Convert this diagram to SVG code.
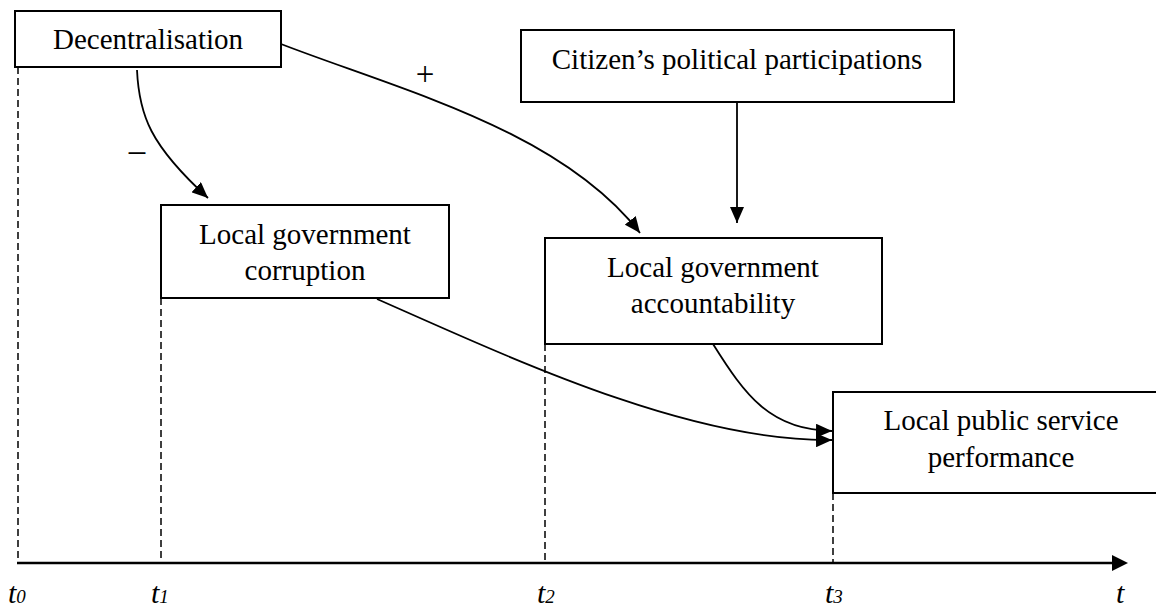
<svg xmlns="http://www.w3.org/2000/svg" width="1156" height="608" viewBox="0 0 1156 608">
<style>
.box{fill:#fff;stroke:#000;stroke-width:2}
.lbl{font-family:"Liberation Serif","Times New Roman",serif;font-size:29px;fill:#000;text-anchor:middle}
.sign{font-family:"Liberation Serif","Times New Roman",serif;font-size:33px;fill:#000;text-anchor:middle}
.conn{fill:none;stroke:#000;stroke-width:1.8}
.dash{fill:none;stroke:#000;stroke-width:1.5;stroke-dasharray:7 4}
.tl{font-family:"Liberation Serif","Times New Roman",serif;font-style:italic;font-size:30px;fill:#000}
.sub{font-size:19px}
</style>
<defs>
<marker id="ah" markerUnits="userSpaceOnUse" markerWidth="18" markerHeight="14" refX="16" refY="7" orient="auto">
<path d="M0,0 L16,7 L0,14 Z" fill="#000"/>
</marker>
</defs>
<rect width="1156" height="608" fill="#fff"/>
<g id="timeline">
<line class="dash" x1="18" y1="67" x2="18" y2="563"/>
<line class="dash" x1="161" y1="298" x2="161" y2="563"/>
<line class="dash" x1="545" y1="344" x2="545" y2="563"/>
<line class="dash" x1="833" y1="493" x2="833" y2="563"/>
<line x1="17" y1="563" x2="1114" y2="563" stroke="#000" stroke-width="2.6"/>
<polygon points="1112,555 1128,563 1112,571" fill="#000"/>
<text class="tl" x="8" y="603">t<tspan class="sub">0</tspan></text>
<text class="tl" x="151" y="603">t<tspan class="sub">1</tspan></text>
<text class="tl" x="537" y="603">t<tspan class="sub">2</tspan></text>
<text class="tl" x="825" y="603">t<tspan class="sub">3</tspan></text>
<text class="tl" x="1116" y="603">t</text>
</g>
<g id="decentralisation">
<rect class="box" x="15" y="11" width="266" height="56"/>
<text class="lbl" x="148" y="49">Decentralisation</text>
</g>
<g id="citizens">
<rect class="box" x="521" y="30" width="433" height="72"/>
<text class="lbl" x="737" y="69">Citizen’s political participations</text>
</g>
<g id="corruption">
<rect class="box" x="161" y="205" width="288" height="93"/>
<text class="lbl" x="305" y="244">Local government</text>
<text class="lbl" x="305" y="280">corruption</text>
</g>
<g id="accountability">
<rect class="box" x="545" y="238" width="337" height="106"/>
<text class="lbl" x="713" y="277">Local government</text>
<text class="lbl" x="713" y="313">accountability</text>
</g>
<g id="performance">
<rect class="box" x="833" y="392" width="340" height="101"/>
<text class="lbl" x="1001" y="430">Local public service</text>
<text class="lbl" x="1001" y="467">performance</text>
</g>
<g id="connectors">
<path class="conn" d="M137,70 C139,115 150,145 208,198" marker-end="url(#ah)"/>
<path class="conn" d="M281,44 C400,90 560,130 640,233" marker-end="url(#ah)"/>
<line class="conn" x1="737" y1="102" x2="737" y2="223" marker-end="url(#ah)"/>
<path class="conn" d="M377,299 C515,360 690,442 832,440" marker-end="url(#ah)"/>
<path class="conn" d="M713,344 C745,395 770,430 832,431" marker-end="url(#ah)"/>
<text class="sign" x="137" y="161">–</text>
<text class="sign" x="425" y="85">+</text>
</g>
</svg>
